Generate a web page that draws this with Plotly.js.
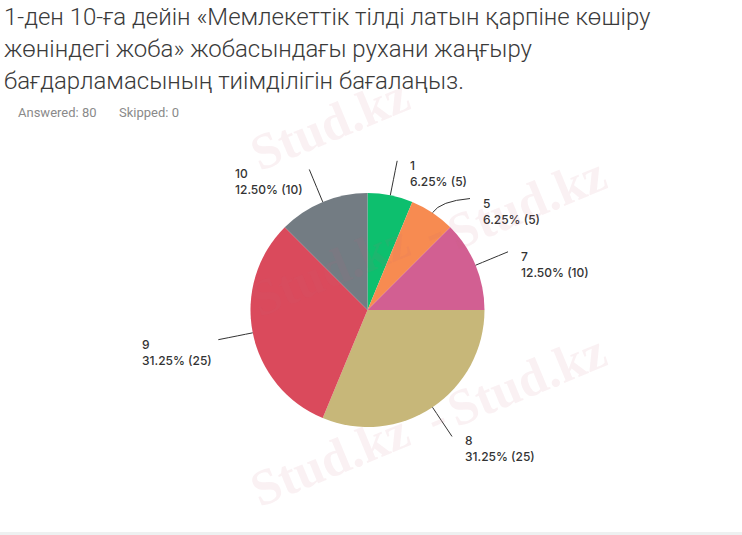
<!DOCTYPE html>
<html><head><meta charset="utf-8">
<script src="https://cdn.plot.ly/plotly-3.0.1.min.js"></script>
<style>html,body{margin:0;padding:0;background:#fff;}#chart{width:742px;height:535px;}</style>
</head><body><div id="chart"></div>
<script>
// ---- data ----
const categories = ['1', '5', '7', '8', '9', '10'];
const counts = [5, 5, 10, 25, 25, 10];
const sliceColors = ['#0dbf6e', '#f78b51', '#d25f92', '#c7b779', '#da4a5c', '#737c83'];
const titleLines = [
  '1-ден 10-ға дейін «Мемлекеттік тілді латын қарпіне көшіру',
  'жөніндегі жоба» жобасындағы рухани жаңғыру',
  'бағдарламасының тиімділігін бағалаңыз.'
];
const answeredCount = 80;
const skippedCount = 0;
const watermarkText = 'Stud.kz';

// ---- layout constants (style) ----
const W = 742, H = 535, CX = 367.5, CY = 310, R = 117;
const labelNudge = { '5': [18, 15] };
const watermarkSpots = [[330, 124], [330, 270], [527, 203], [330, 460], [527, 380]];
const dashSpots = [[433, 232], [436, 418]];
const px = x => x / W, py = y => 1 - y / H;
const total = counts.reduce((a, b) => a + b, 0);

const annotations = [];
const shapes = [];

// title lines
titleLines.forEach((t, i) => {
  annotations.push({
    xref: 'paper', yref: 'paper', x: px(2), y: py(17 + i * 32), xanchor: 'left', yanchor: 'middle',
    text: t, showarrow: false,
    font: { family: 'Roboto', size: 24, color: '#3a3a3a', weight: 300 }
  });
});

let cum = 0;
counts.forEach((c, i) => {
  const mid = (cum + c / 2) / total * 2 * Math.PI; cum += c;
  const s = Math.sin(mid), co = Math.cos(mid);
  const e = [CX + R * s, CY - R * co];
  const k = [CX + 1.12 * R * s, CY - 1.12 * R * co];
  const n = labelNudge[categories[i]] || [0, 0];
  const t = [CX + 1.3 * R * s + n[0], CY - 1.3 * R * co + n[1]];
  shapes.push({
    type: 'path', xref: 'paper', yref: 'paper', layer: 'above',
    path: `M${px(e[0])},${py(e[1])} Q${px(k[0])},${py(k[1])} ${px(t[0])},${py(t[1])}`,
    line: { color: '#333', width: 1 }
  });
  const pct = (c / total * 100).toFixed(2) + '% (' + c + ')';
  const right = s >= 0;
  annotations.push({
    xref: 'paper', yref: 'paper',
    x: px(right ? t[0] + 11 : t[0] - 4), y: py(t[1] - 5),
    xanchor: right ? 'left' : 'right', yanchor: 'top', align: 'left',
    text: categories[i] + '<br>' + pct, showarrow: false,
    font: { family: 'Inter', size: 12, color: '#333', weight: 500 }
  });
});

// watermarks
watermarkSpots.forEach(p => {
  annotations.push({
    xref: 'paper', yref: 'paper', x: px(p[0]), y: py(p[1]), xanchor: 'center', yanchor: 'middle',
    text: '<b>' + watermarkText + '</b>', showarrow: false, textangle: -22.5,
    font: { family: 'Liberation Serif', size: 51, color: 'rgba(200,100,120,0.09)' }
  });
});
dashSpots.forEach(p => {
  annotations.push({
    xref: 'paper', yref: 'paper', x: px(p[0]), y: py(p[1]), xanchor: 'center', yanchor: 'middle',
    text: '<b>-</b>', showarrow: false, textangle: -22.5,
    font: { family: 'Liberation Serif', size: 51, color: 'rgba(200,100,120,0.09)' }
  });
});

annotations.push({
  xref: 'paper', yref: 'paper', x: px(16), y: py(112), xanchor: 'left', yanchor: 'middle',
  text: 'Answered: ' + answeredCount, showarrow: false,
  font: { family: 'Roboto', size: 13, color: '#8a8a8a' }
});
annotations.push({
  xref: 'paper', yref: 'paper', x: px(117), y: py(112), xanchor: 'left', yanchor: 'middle',
  text: 'Skipped: ' + skippedCount, showarrow: false,
  font: { family: 'Roboto', size: 13, color: '#8a8a8a' }
});

shapes.push({
  type: 'rect', xref: 'paper', yref: 'paper', x0: 0, x1: 1, y0: 0, y1: py(532),
  fillcolor: '#eef1f1', line: { width: 0 }, layer: 'below'
});

const trace = {
  type: 'pie', values: counts, labels: categories, sort: false,
  direction: 'clockwise', rotation: 0, textinfo: 'none', hoverinfo: 'label+percent+value',
  marker: { colors: sliceColors, line: { width: 0 } },
  domain: { x: [px(CX - R), px(CX + R)], y: [py(CY + R), py(CY - R)] },
  showlegend: false
};

const layout = {
  width: W, height: H, margin: { l: 0, r: 0, t: 0, b: 0 },
  paper_bgcolor: '#fff', plot_bgcolor: '#fff', showlegend: false,
  annotations, shapes
};

Plotly.newPlot('chart', [trace], layout, { displayModeBar: false, staticPlot: true });
</script>
</body></html>
